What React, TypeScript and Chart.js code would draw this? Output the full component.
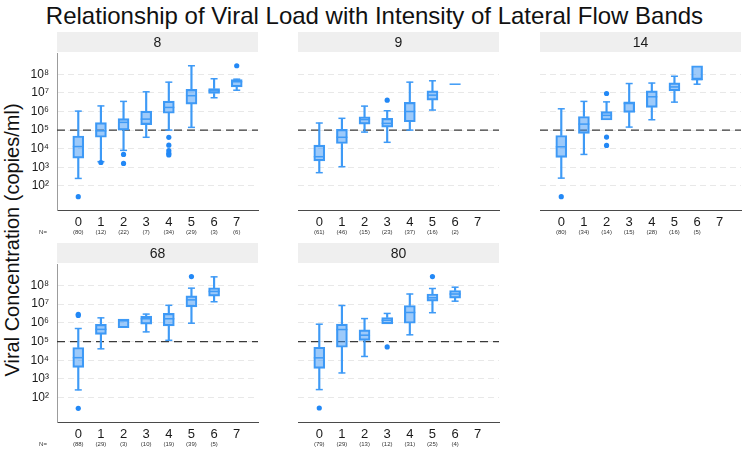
import React, { useEffect, useRef } from "react";
import { Chart, registerables } from "chart.js";

Chart.register(...registerables);

const FONT = '"Liberation Sans", Arial, Helvetica, sans-serif';
const TITLE = "Relationship of Viral Load with Intensity of Lateral Flow Bands";
const Y_TITLE = "Viral Concentration (copies/ml)";
const GROUPS = [0, 1, 2, 3, 4, 5, 6, 7];
const Y_TICK_EXPONENTS = [2, 3, 4, 5, 6, 7, 8];
const THRESHOLD = 1e5;
const N_PREFIX = "N=";

// Panel "8"
const P8_LO = [2.5e2, 2.0e3, 8.1e3, 4.1e4, 1.0e5, 1.4e5, 5.5e6, 1.4e7];
const P8_Q1 = [3.1e3, 4.1e4, 1.0e5, 1.95e5, 8.1e5, 2.5e6, 9.3e6, 2.1e7];
const P8_MED = [1.3e4, 9.1e4, 2.6e5, 3.9e5, 1.66e6, 7.1e6, 1.29e7, 4.0e7];
const P8_Q3 = [4.8e4, 2.5e5, 4.1e5, 1.05e6, 3.6e6, 1.55e7, 1.74e7, 5.2e7];
const P8_HI = [1.05e6, 2.0e6, 3.5e6, 1.15e7, 3.8e7, 2.9e8, 5.8e7, 5.5e7];
const P8_OUT = [[26], [1.8e3], [4.9e3, 1.6e3], [], [4.1e4, 1.55e4, 7.8e3, 5.6e3, 4.6e3], [], [], [2.9e8]];
const P8_N = [80, 12, 22, 7, 34, 29, 3, 6];

// Panel "9"
const P9_LO = [5.1e2, 1.07e3, 7.8e4, 2.2e4, 1.0e5, 1.2e6, 2.95e7, null];
const P9_Q1 = [2.2e3, 1.9e4, 2.1e5, 1.45e5, 2.8e5, 4.1e6, 2.95e7, null];
const P9_MED = [3.7e3, 4.1e4, 3.7e5, 2.3e5, 1.0e6, 7.6e6, 2.95e7, null];
const P9_Q3 = [1.55e4, 1.1e5, 5.2e5, 4.3e5, 3.1e6, 1.29e7, 2.95e7, null];
const P9_HI = [2.4e5, 4.3e5, 1.95e6, 1.1e6, 3.8e7, 4.5e7, 2.95e7, null];
const P9_OUT = [[], [], [], [4.1e6], [], [], [], []];
const P9_N = [61, 46, 15, 23, 37, 16, 2, null];

// Panel "14"
const P14_LO = [2.6e2, 4.9e3, 3.5e5, 1.45e5, 3.6e5, 3.2e6, 2.95e7, null];
const P14_Q1 = [3.4e3, 6.6e4, 3.5e5, 8.9e5, 1.66e6, 1.29e7, 5.2e7, null];
const P14_MED = [1.26e4, 2.1e5, 6.2e5, 2.7e6, 6.2e6, 2.1e7, 5.2e7, null];
const P14_Q3 = [5.1e4, 5.4e5, 9.8e5, 3.3e6, 1.29e7, 3.5e7, 2.9e8, null];
const P14_HI = [1.4e6, 3.5e6, 3.3e6, 3.2e7, 3.4e7, 7.9e7, 2.9e8, null];
const P14_OUT = [[26], [], [9.3e6, 4.2e4, 1.5e4], [], [], [], [], []];
const P14_N = [80, 34, 14, 15, 28, 16, 5, null];

// Panel "68"
const P68_LO = [2.6e2, 4.1e4, 5.5e5, 3.3e5, 1.17e5, 9.6e5, 1.35e7, null];
const P68_Q1 = [4.2e3, 2.45e5, 5.5e5, 8.5e5, 6.9e5, 7.2e6, 2.7e7, null];
const P68_MED = [1.38e4, 4.5e5, 1.29e6, 1.66e6, 1.66e6, 1.7e7, 4.8e7, null];
const P68_Q3 = [4.8e4, 8.3e5, 1.58e6, 2.3e6, 3.2e6, 2.8e7, 7.6e7, null];
const P68_HI = [5.0e5, 1.86e6, 1.58e6, 2.95e6, 8.7e6, 7.2e7, 2.9e8, null];
const P68_OUT = [[2.9e6, 2.5e6, 27], [], [], [], [], [3.0e8], [], []];
const P68_N = [88, 29, 3, 10, 19, 39, 5, null];

// Panel "80"
const P80_LO = [2.7e2, 2.1e3, 1.6e4, 8.9e5, 2.3e5, 3.5e6, 1.45e7, null];
const P80_Q1 = [3.7e3, 5.0e4, 1.17e5, 8.9e5, 9.6e5, 1.45e7, 2.1e7, null];
const P80_MED = [1.35e4, 4.4e5, 2.2e5, 1.38e6, 3.6e6, 2.2e7, 3.5e7, null];
const P80_Q3 = [5.0e4, 8.5e5, 4.2e5, 1.95e6, 8.5e6, 3.5e7, 5.4e7, null];
const P80_HI = [8.5e5, 8.5e6, 1.7e6, 3.2e6, 3.5e7, 6.9e7, 8.1e7, null];
const P80_OUT = [[28], [], [], [5.2e4], [], [3.0e8], [], []];
const P80_N = [79, 29, 13, 12, 31, 25, 4, null];

const PANEL_DATA = [
  { label: "8", lo: P8_LO, q1: P8_Q1, med: P8_MED, q3: P8_Q3, hi: P8_HI, out: P8_OUT, n: P8_N },
  { label: "9", lo: P9_LO, q1: P9_Q1, med: P9_MED, q3: P9_Q3, hi: P9_HI, out: P9_OUT, n: P9_N },
  { label: "14", lo: P14_LO, q1: P14_Q1, med: P14_MED, q3: P14_Q3, hi: P14_HI, out: P14_OUT, n: P14_N },
  { label: "68", lo: P68_LO, q1: P68_Q1, med: P68_MED, q3: P68_Q3, hi: P68_HI, out: P68_OUT, n: P68_N },
  { label: "80", lo: P80_LO, q1: P80_Q1, med: P80_MED, q3: P80_Q3, hi: P80_HI, out: P80_OUT, n: P80_N },
];

// layout
const COL_LEFT = [57, 298, 540];
const PLOT_W = 208;
const Y_AXIS_W = 50;
const ROWS = [
  { top: 32, height: 206, plotBottom: 210 },
  { top: 243, height: 208, plotBottom: 422 },
];
const STRIP_H = 20;
const PAD_TOP = 21;

const BLUE = "#3e9af6";
const BOX_FILL = "rgba(60,150,246,0.5)";
const OUT_COLOR = "#2288f6";
const SUP = ["⁰", "¹", "²", "³", "⁴", "⁵", "⁶", "⁷", "⁸", "⁹"];

const facetPlugin = {
  id: "facet",
  beforeDraw(chart: any, _args: any, opts: any) {
    const { ctx, chartArea } = chart;
    ctx.save();
    ctx.fillStyle = "#efefef";
    ctx.fillRect(chartArea.left, 0, chartArea.right - chartArea.left, STRIP_H);
    ctx.fillStyle = "#1a1a1a";
    ctx.font = `14px ${FONT}`;
    ctx.textAlign = "center";
    ctx.textBaseline = "middle";
    ctx.fillText(opts.label, (chartArea.left + chartArea.right) / 2, STRIP_H / 2 + 1);
    ctx.restore();
  },
  beforeDatasetsDraw(chart: any) {
    const { ctx, chartArea, scales } = chart;
    const y = scales.y.getPixelForValue(THRESHOLD);
    ctx.save();
    ctx.strokeStyle = "#3a3a3a";
    ctx.lineWidth = 1.4;
    ctx.setLineDash([8, 5]);
    ctx.beginPath();
    ctx.moveTo(chartArea.left, y);
    ctx.lineTo(chartArea.right, y);
    ctx.stroke();
    ctx.restore();
  },
  afterDraw(chart: any, _args: any, opts: any) {
    const { ctx, chartArea, scales } = chart;
    const y = chartArea.bottom + 22.5;
    ctx.save();
    ctx.fillStyle = "#333";
    ctx.font = `6px ${FONT}`;
    ctx.textAlign = "center";
    ctx.textBaseline = "middle";
    const counts: (number | null)[] = opts.counts;
    counts.forEach((c, i) => {
      if (c == null) return;
      ctx.fillText(`(${c})`, scales.x.getPixelForValue(GROUPS[i]), y);
    });
    if (opts.showPrefix) ctx.fillText(N_PREFIX, chartArea.left - 14, y);
    ctx.restore();
  },
};

function buildConfig(p: any, showY: boolean, xAxisH: number) {
  const idx = GROUPS.filter((i) => p.q1[i] != null);
  const whiskers: any[] = [];
  idx.forEach((i) => {
    if (p.lo[i] < p.q1[i]) whiskers.push({ x: GROUPS[i], y: [p.lo[i], p.q1[i]] });
    if (p.hi[i] > p.q3[i]) whiskers.push({ x: GROUPS[i], y: [p.q3[i], p.hi[i]] });
  });
  const boxes = idx.map((i) => ({ x: GROUPS[i], y: [p.q1[i], p.q3[i]] }));
  const caps: any[] = [];
  idx.forEach((i) => {
    if (p.lo[i] < p.q1[i]) caps.push({ x: GROUPS[i], y: p.lo[i] });
    if (p.hi[i] > p.q3[i]) caps.push({ x: GROUPS[i], y: p.hi[i] });
  });
  const meds = idx.map((i) => ({ x: GROUPS[i], y: p.med[i] }));
  const outs: any[] = [];
  GROUPS.forEach((g, i) => (p.out[i] || []).forEach((v: number) => outs.push({ x: g, y: v })));

  return {
    type: "bar",
    data: {
      datasets: [
        { type: "bar", data: whiskers, backgroundColor: BLUE, barThickness: 1.5, maxBarThickness: 1.5, grouped: false, borderWidth: 0, order: 5 },
        { type: "bar", data: boxes, backgroundColor: BOX_FILL, borderColor: BLUE, borderWidth: 1.5, borderSkipped: false, barThickness: 11, maxBarThickness: 11, grouped: false, order: 4 },
        { type: "scatter", data: caps, pointStyle: "line", pointRadius: 3.5, borderColor: BLUE, pointBorderColor: BLUE, pointBorderWidth: 1.5, order: 3 },
        { type: "scatter", data: meds, pointStyle: "line", pointRadius: 5.5, borderColor: BLUE, pointBorderColor: BLUE, pointBorderWidth: 1.5, order: 2 },
        { type: "scatter", data: outs, pointStyle: "circle", pointRadius: 2.6, backgroundColor: OUT_COLOR, pointBackgroundColor: OUT_COLOR, pointBorderWidth: 0, order: 1 },
      ],
    },
    options: {
      responsive: false,
      animation: false,
      events: [],
      layout: { padding: { top: PAD_TOP, left: 0, right: 0, bottom: 0 } },
      plugins: {
        legend: { display: false },
        tooltip: { enabled: false },
        facet: { label: p.label, counts: p.n, showPrefix: showY },
      },
      scales: {
        x: {
          type: "linear",
          min: -0.94,
          max: 7.94,
          offset: false,
          bounds: "data",
          grid: { display: false, drawTicks: false, offset: false },
          border: { display: true, color: "#4a4a4a", width: 1 },
          ticks: { padding: 5, color: "#1a1a1a", font: { family: FONT, size: 13 }, callback: (v: any) => String(v), maxRotation: 0, autoSkip: false },
          afterBuildTicks: (s: any) => { s.ticks = GROUPS.map((g) => ({ value: g })); },
          afterFit: (s: any) => { s.height = xAxisH; },
        },
        y: {
          type: "logarithmic",
          min: 5,
          max: 1.41e9,
          bounds: "data",
          grid: { display: true, color: "#e8e8e8", lineWidth: 1, drawTicks: false },
          border: { display: showY, color: "#9c9c9c", width: 1, dash: [6, 4] },
          ticks: {
            display: showY,
            padding: 8,
            color: "#1a1a1a",
            font: { family: FONT, size: 12 },
            callback: (v: any) => "10" + SUP[Math.round(Math.log10(v))],
          },
          afterBuildTicks: (s: any) => { s.ticks = Y_TICK_EXPONENTS.map((e) => ({ value: Math.pow(10, e) })); },
          afterFit: (s: any) => { s.width = Y_AXIS_W; },
        },
      },
    },
    plugins: [facetPlugin],
  };
}

function Panel({ index }: { index: number }) {
  const ref = useRef<HTMLCanvasElement>(null);
  const col = index % 3;
  const row = Math.floor(index / 3);
  const r = ROWS[row];
  const left = COL_LEFT[col] - Y_AXIS_W;
  const width = Y_AXIS_W + PLOT_W;
  const xAxisH = r.height - (r.plotBottom - r.top);
  useEffect(() => {
    const chart = new Chart(ref.current as HTMLCanvasElement, buildConfig(PANEL_DATA[index], col === 0, xAxisH) as any);
    return () => chart.destroy();
  }, [index]);
  return (
    <canvas
      ref={ref}
      width={width}
      height={r.height}
      style={{ position: "absolute", left, top: r.top, width, height: r.height, display: "block" }}
    />
  );
}

export default function App() {
  return (
    <div style={{ position: "absolute", left: 0, top: 0, width: 749, height: 451, background: "#fff", overflow: "hidden", fontFamily: FONT }}>
      <div style={{ position: "absolute", left: 0, top: 2, width: 749, textAlign: "center", fontSize: 24, lineHeight: "28px", color: "#111", whiteSpace: "nowrap" }}>
        {TITLE}
      </div>
      <div
        style={{
          position: "absolute",
          left: 12,
          top: 240,
          transform: "translate(-50%, -50%) rotate(-90deg)",
          fontSize: 20,
          lineHeight: "22px",
          color: "#111",
          whiteSpace: "nowrap",
        }}
      >
        {Y_TITLE}
      </div>
      {PANEL_DATA.map((_, i) => (
        <Panel key={i} index={i} />
      ))}
    </div>
  );
}
